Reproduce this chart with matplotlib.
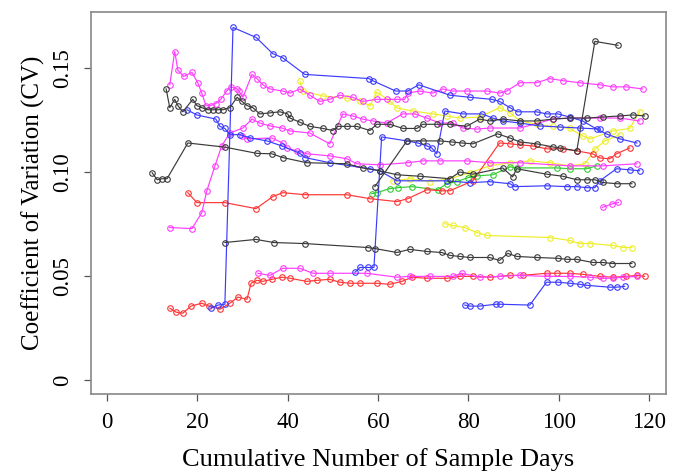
import matplotlib
matplotlib.use("Agg")
import matplotlib.pyplot as plt

# ---------------- data ----------------
m1_x = [13.9, 15.0, 15.7, 17.0, 18.8, 20.1, 21.0, 21.9, 23.0, 24.1, 25.2, 26.5, 27.4, 28.8, 29.2, 30.1,
        32.1, 33.2, 34.5, 36.1, 38.9, 40.5, 42.7, 44.9, 47.1, 49.3, 51.5, 54.4, 56.6, 59.7, 61.9, 64.2,
        65.9, 66.6, 69.2, 72.1, 74.3, 76.5, 79.6, 84.1, 86.9, 88.5, 91.4, 95.1, 98.0, 100.9, 104.6,
        109.1, 112.0, 115.0, 118.6]
m1_y = [0.142, 0.158, 0.149, 0.146, 0.148, 0.143, 0.138, 0.132, 0.132, 0.133, 0.135, 0.139, 0.141, 0.140,
        0.139, 0.136, 0.147, 0.145, 0.142, 0.140, 0.139, 0.138, 0.140, 0.137, 0.134, 0.135, 0.137, 0.136,
        0.134, 0.135, 0.135, 0.135, 0.135, 0.138, 0.139, 0.138, 0.140, 0.139, 0.139, 0.139, 0.138, 0.139,
        0.143, 0.143, 0.145, 0.144, 0.143, 0.142, 0.141, 0.141, 0.140]

b1_x = [23.0, 24.6, 26.1, 27.9, 33.0, 36.7, 38.9, 43.8, 58.0, 58.8, 63.9, 66.6, 69.0, 75.9, 80.3, 85.2,
        86.9, 89.2, 90.9, 95.1, 97.3, 99.8, 102.4, 105.3, 108.4, 110.6, 113.5, 117.3]
b1_y = [0.0345, 0.036, 0.0364, 0.1696, 0.1648, 0.157, 0.155, 0.147, 0.145, 0.144, 0.139, 0.139, 0.142,
        0.137, 0.136, 0.135, 0.134, 0.131, 0.129, 0.129, 0.128, 0.128, 0.1265, 0.1246, 0.1207, 0.1183,
        0.116, 0.114]

k1_x = [13.1, 13.9, 15.0, 15.7, 16.8, 19.0, 19.9, 21.0, 22.3, 23.5, 24.6, 25.7, 27.2, 28.8, 29.9, 31.0,
        32.3, 33.8, 36.1, 38.3, 40.0, 40.5, 42.7, 44.9, 47.8, 50.0, 51.1, 53.1, 55.3, 58.2, 59.7, 62.6,
        65.5, 68.6, 69.9, 73.0, 75.9, 79.6, 82.5, 84.7, 87.6, 91.4, 95.1, 98.7, 102.4, 106.2, 109.7,
        113.5, 116.4, 119.0]
k1_y = [0.140, 0.131, 0.135, 0.132, 0.129, 0.135, 0.132, 0.131, 0.130, 0.130, 0.130, 0.130, 0.131, 0.136,
        0.134, 0.132, 0.131, 0.128, 0.1285, 0.129, 0.128, 0.126, 0.124, 0.122, 0.121, 0.120, 0.122, 0.122,
        0.122, 0.120, 0.123, 0.123, 0.121, 0.121, 0.123, 0.123, 0.123, 0.122, 0.1255, 0.1246, 0.1255,
        0.1246, 0.1246, 0.1255, 0.126, 0.126, 0.1265, 0.127, 0.1275, 0.127]

k2_x = [10.0, 11.1, 12.2, 13.3, 17.9, 26.1, 33.2, 36.5, 38.9, 44.2, 53.1, 56.6, 60.4, 64.2, 69.2, 75.9,
        78.1, 81.0, 87.6, 89.8, 90.7, 97.3, 100.9, 104.0, 106.2, 108.0, 109.7, 112.8, 116.2]
k2_y = [0.0997, 0.0963, 0.0968, 0.0968, 0.114, 0.112, 0.109, 0.1088, 0.107, 0.1045, 0.104, 0.102, 0.1006,
        0.0987, 0.098, 0.0968, 0.100, 0.099, 0.102, 0.0977, 0.1016, 0.099, 0.098, 0.0963, 0.0963, 0.0963,
        0.095, 0.0944, 0.0944]

k3_x = [59.3, 66.4, 69.9, 73.7, 76.3, 78.5, 81.0, 86.5, 89.2, 91.4, 95.1, 98.7, 100.2, 104.0, 108.0, 113.1]
k3_y = [0.093, 0.115, 0.115, 0.115, 0.1145, 0.114, 0.1136, 0.1184, 0.1164, 0.1145, 0.1136, 0.1121,
        0.1116, 0.1102, 0.1629, 0.161]

k4_x = [26.1, 33.0, 36.9, 43.8, 57.7, 59.3, 64.2, 67.0, 70.8, 74.1, 75.9, 78.1, 80.3, 84.7, 86.9, 88.7,
        90.7, 95.1, 99.8, 101.8, 104.0, 107.5, 109.7, 111.9, 116.2]
k4_y = [0.0661, 0.0676, 0.0661, 0.0656, 0.0637, 0.0632, 0.0613, 0.0628, 0.0618, 0.0613, 0.0599, 0.0594,
        0.0589, 0.0589, 0.0575, 0.0609, 0.0594, 0.0589, 0.0585, 0.058, 0.058, 0.0565, 0.0565, 0.056, 0.056]

r1_x = [13.9, 15.3, 16.8, 18.6, 21.0, 22.6, 25.0, 27.2, 29.0, 31.0, 31.9, 33.2, 34.5, 36.5, 38.7, 40.5,
        44.2, 46.5, 49.3, 51.5, 53.8, 56.0, 59.7, 62.6, 65.3, 67.5, 70.8, 75.2, 78.1, 81.0, 84.7, 89.2,
        92.0, 97.3, 99.6, 102.4, 105.3, 109.1, 112.0, 115.0, 117.3, 119.0]
r1_y = [0.0345, 0.0326, 0.0321, 0.0355, 0.0369, 0.0355, 0.034, 0.0369, 0.0398, 0.0388, 0.0465, 0.0479,
        0.0474, 0.0484, 0.0494, 0.0489, 0.0474, 0.0479, 0.0484, 0.047, 0.0465, 0.0465, 0.0465, 0.046,
        0.0474, 0.0494, 0.0489, 0.0489, 0.0498, 0.0498, 0.0494, 0.0503, 0.0503, 0.0513, 0.0513, 0.0513,
        0.0508, 0.0498, 0.0494, 0.0498, 0.0503, 0.0498]

m2_x = [33.4, 36.1, 38.9, 42.7, 45.6, 49.3, 57.5, 64.2, 67.0, 71.5, 76.5, 78.5, 82.5, 86.9, 91.4, 97.3,
        102.4, 106.9, 109.7, 112.0, 114.2, 117.3]
m2_y = [0.0513, 0.0503, 0.0537, 0.0537, 0.0513, 0.0513, 0.0513, 0.0494, 0.0498, 0.0498, 0.0498, 0.0513,
        0.0494, 0.0498, 0.0503, 0.0498, 0.0498, 0.0494, 0.0489, 0.0489, 0.0494, 0.0498]

b2_x = [54.9, 56.0, 57.7, 59.1, 60.8, 66.4, 68.8, 70.8, 71.9, 73.0, 74.8, 78.8, 83.0, 85.4, 87.6, 91.4,
        95.8, 100.2, 104.6, 109.1]
b2_y = [0.0518, 0.0541, 0.0541, 0.0541, 0.1169, 0.115, 0.114, 0.1126, 0.1116, 0.1088, 0.1294, 0.128,
        0.128, 0.126, 0.1246, 0.1236, 0.1222, 0.1217, 0.1212, 0.1207]

b3_x = [17.7, 19.9, 24.1, 25.0, 26.1, 27.2, 29.4, 31.6, 35.4, 38.7, 42.7, 43.8, 49.3, 58.2, 60.4, 64.2,
        75.2, 80.3, 84.7, 89.2, 90.3, 97.3, 101.8, 104.0, 106.2, 108.0, 109.1, 112.8, 115.7, 117.9]
b3_y = [0.130, 0.1275, 0.1255, 0.122, 0.121, 0.118, 0.118, 0.1165, 0.115, 0.1126, 0.109, 0.107, 0.1045,
        0.1016, 0.1006, 0.0958, 0.0958, 0.0949, 0.0954, 0.0944, 0.093, 0.0934, 0.093, 0.093, 0.0925,
        0.0925, 0.0958, 0.1016, 0.1011, 0.1006]

b4_x = [79.2, 80.3, 82.5, 86.1, 86.9, 93.6, 97.3, 99.8, 102.4, 104.6, 106.2, 111.3, 112.8, 114.6]
b4_y = [0.036, 0.0355, 0.0355, 0.0364, 0.0364, 0.036, 0.047, 0.047, 0.0465, 0.046, 0.0455, 0.0446,
        0.0446, 0.045]

m3_x = [13.9, 18.8, 21.0, 22.1, 23.9, 25.4, 27.2, 30.1, 32.1, 33.8, 36.1, 38.7, 40.5, 44.9, 49.3, 52.2,
        54.4, 56.6, 58.8, 61.9, 65.5, 68.1, 70.8, 73.7, 76.5, 78.8, 81.9, 84.7, 91.4, 98.7, 102.4, 109.1,
        113.5, 117.9]
m3_y = [0.0733, 0.0728, 0.0805, 0.091, 0.103, 0.1126, 0.1188, 0.1212, 0.1255, 0.1236, 0.1222, 0.1212,
        0.1198, 0.1188, 0.1136, 0.128, 0.127, 0.1255, 0.1246, 0.1236, 0.128, 0.128, 0.126, 0.1236, 0.1236,
        0.1212, 0.1207, 0.1212, 0.1212, 0.1255, 0.126, 0.126, 0.126, 0.1246]

m4_x = [29.9, 31.0, 36.5, 38.9, 39.8, 42.0, 44.2, 49.3, 53.1, 55.3, 60.4, 66.6, 69.9, 73.7, 79.6, 84.7,
        91.4, 102.4, 109.7, 117.3]
m4_y = [0.1174, 0.116, 0.1164, 0.114, 0.1116, 0.1102, 0.1088, 0.1078, 0.1064, 0.104, 0.1035, 0.1045,
        0.1054, 0.1054, 0.1054, 0.1045, 0.1045, 0.103, 0.103, 0.104]

m5_x = [109.7, 111.7, 113.2]
m5_y = [0.0830, 0.0846, 0.0854]

y1_x = [42.7, 43.4, 47.8, 53.1, 56.0, 58.2, 59.7, 62.6, 64.2, 67.7, 72.1, 75.2, 78.1, 82.5, 86.9, 89.2,
        91.4, 95.1, 98.7, 102.4, 105.3, 106.9, 112.0, 115.7, 117.9]
y1_y = [0.1437, 0.139, 0.1366, 0.1356, 0.1342, 0.1318, 0.1385, 0.1342, 0.1308, 0.1294, 0.128, 0.127,
        0.126, 0.1265, 0.131, 0.1285, 0.1246, 0.123, 0.122, 0.121, 0.1174, 0.116, 0.1198, 0.121, 0.129]

y2_x = [63.3, 67.0, 71.5, 75.9, 80.3, 84.7, 89.2, 93.6, 98.0, 102.4, 105.8, 108.0, 110.2, 113.5]
y2_y = [0.0958, 0.0968, 0.0954, 0.0968, 0.0997, 0.103, 0.1045, 0.1054, 0.1045, 0.103, 0.104, 0.111,
        0.115, 0.118]

y3_x = [74.8, 76.5, 79.2, 81.9, 84.1, 98.0, 102.4, 104.6, 106.9, 112.0, 114.2, 116.2]
y3_y = [0.0752, 0.0743, 0.0733, 0.0709, 0.0695, 0.0685, 0.0671, 0.0656, 0.0656, 0.0647, 0.0637, 0.0637]

r2_x = [17.9, 19.9, 26.1, 33.0, 36.7, 38.9, 43.8, 53.1, 58.2, 64.2, 66.6, 70.8, 74.1, 75.9, 81.0, 86.9,
        89.2, 91.4, 94.2, 97.3, 100.9, 104.0, 107.5, 109.1, 111.3, 112.8, 115.7]
r2_y = [0.0901, 0.0853, 0.0853, 0.0824, 0.0882, 0.0901, 0.0891, 0.0891, 0.0872, 0.0858, 0.0872, 0.0915,
        0.091, 0.091, 0.0958, 0.114, 0.1136, 0.1131, 0.1126, 0.1112, 0.1112, 0.1102, 0.1088, 0.1068,
        0.1064, 0.1088, 0.1116]

g1_x = [58.6, 59.7, 62.6, 64.4, 67.5, 73.2, 75.2, 77.4, 79.9, 81.9, 85.4, 89.2, 90.7, 99.6, 102.4, 106.2, 108.4]
g1_y = [0.0896, 0.0901, 0.092, 0.0925, 0.093, 0.0915, 0.0944, 0.0954, 0.0973, 0.0982, 0.0987, 0.1025,
        0.102, 0.102, 0.1016, 0.1016, 0.103]

x_ticks = [0, 20, 40, 60, 80, 100, 120]
y_ticks = [0, 0.05, 0.10, 0.15]
y_tick_labels = ["0", "0.05", "0.10", "0.15"]
x_label = "Cumulative Number of Sample Days"
y_label = "Coefficient of Variation (CV)"

BLUE = "#3b3bff"
MAG = "#ff3cff"
BLK = "#3a3a3a"
RED = "#ff3535"
YEL = "#eeee2a"
GRN = "#33cc33"

series = [
    (y3_x, y3_y, YEL), (y2_x, y2_y, YEL), (y1_x, y1_y, YEL),
    (g1_x, g1_y, GRN),
    (r1_x, r1_y, RED), (r2_x, r2_y, RED),
    (m2_x, m2_y, MAG), (m3_x, m3_y, MAG), (m4_x, m4_y, MAG), (m5_x, m5_y, MAG), (m1_x, m1_y, MAG),
    (b4_x, b4_y, BLUE), (b3_x, b3_y, BLUE), (b2_x, b2_y, BLUE), (b1_x, b1_y, BLUE),
    (k4_x, k4_y, BLK), (k2_x, k2_y, BLK), (k3_x, k3_y, BLK), (k1_x, k1_y, BLK),
]

plt.rcParams["font.family"] = ["Liberation Serif", "DejaVu Serif"]

fig = plt.figure(figsize=(6.83, 4.73), dpi=100)
ax = fig.add_axes([0.1328, 0.167, 0.842, 0.8066])

for xs, ys, c in series:
    ax.plot(xs, ys, color=c, lw=0.85, marker="o", ms=4.0, mfc="none", mec=c, mew=0.8)

ax.set_xlim(-3.6, 123.7)
ax.set_ylim(-0.0068, 0.1768)
ax.set_xticks(x_ticks)
ax.set_xticklabels([str(v) for v in x_ticks])
ax.set_yticks(y_ticks)
ax.set_yticklabels(y_tick_labels, rotation=90, va="center")
ax.tick_params(axis="both", direction="out", length=5, width=0.9, color="#555555", labelsize=16.5)
ax.tick_params(axis="x", pad=8)
ax.tick_params(axis="y", pad=8)
for s in ax.spines.values():
    s.set_color("#888888")
    s.set_linewidth(1.2)
ax.set_xlabel(x_label, fontsize=19, labelpad=11)
ax.set_ylabel(y_label, fontsize=18, labelpad=5)

fig.savefig("out.png", dpi=100)
